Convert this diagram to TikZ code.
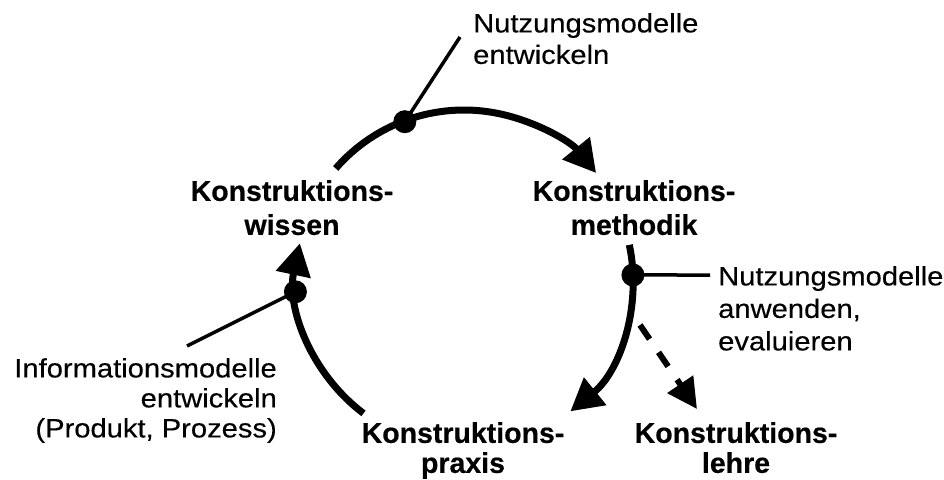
\documentclass[tikz,border=0pt]{standalone}
\usepackage{fontspec}
\setmainfont{Liberation Sans}
\newfontfamily\regfont[FakeStretch=1.1,FakeBold=0.3]{Liberation Sans}
\newfontfamily\boldfont[FakeBold=0.5]{Liberation Sans Bold}
\usetikzlibrary{arrows.meta,calc}
\tikzset{
  flow/.style={line width=7pt,-{Triangle[length=32pt,width=34pt]}},
  dashflow/.style={line width=6pt,dash pattern=on 17pt off 16pt,-{Triangle[length=30pt,width=30pt]}},
  leader/.style={line width=3.5pt},
  dot/.style={circle,fill=black,inner sep=0pt,minimum size=23pt},
  boldlab/.style={inner sep=0pt,align=center,font=\boldfont\fontsize{28.5}{34}\selectfont},
  boldlabb/.style={inner sep=0pt,align=center,font=\boldfont\fontsize{28.5}{30}\selectfont},
  reglab/.style={inner sep=0pt,font=\regfont\fontsize{26.5}{31.5}\selectfont}
}
\begin{document}
\begin{tikzpicture}[x=1pt,y=-1pt]
\path[use as bounding box] (0,0) rectangle (944,479);
\coordinate (C) at (464,280);
% labels
\node[boldlab,anchor=north] (wissen) at (292,180) {Konstruktions-\\wissen};
\node[boldlab,anchor=north] (methodik) at (634,180) {Konstruktions-\\methodik};
\node[boldlabb,anchor=north] (praxis) at (463,422) {Konstruktions-\\praxis};
\node[boldlabb,anchor=north] (lehre) at (736,422) {Konstruktions-\\lehre};
\node[reglab,align=left,anchor=north west] (ntop) at (473,13) {Nutzungsmodelle\\entwickeln};
\node[reglab,align=left,anchor=north west,font=\regfont\fontsize{26.5}{32.5}\selectfont] (nright) at (718,266) {Nutzungsmodelle\\anwenden,\\evaluieren};
\node[reglab,align=right,anchor=north east,font=\regfont\fontsize{26.5}{30}\selectfont] (nleft) at (277,358) {Informationsmodelle\\entwickeln\\(Produkt, Prozess)};
% arc end points
\coordinate (a1) at ($(C)+(221:170)$);
\coordinate (b1) at ($(C)+(348:169)$);
\coordinate (c1) at ($(C)+(127:167)$);
% arcs
\draw[flow] (a1) arc[start angle=221,end angle=321,radius=170];
\draw[flow] (b1) arc[start angle=348,end angle=411,radius=169];
\draw[flow] (c1) arc[start angle=127,end angle=192,radius=169];
% dots
\node[dot] (dtop) at ($(C)+(249.5:169)$) {};
\node[dot] (dright) at ($(C)+(358.3:169)$) {};
\node[dot] (dleft) at ($(C)+(176:169)$) {};
% leaders
\coordinate (ltop) at (460,37);
\coordinate (lright) at (710,275);
\coordinate (lleft) at (187,346);
\draw[leader] (dtop.center) -- (ltop);
\draw[leader] (dright.center) -- (lright);
\draw[leader] (dleft.center) -- (lleft);
% dashed
\coordinate (ds) at (640,325);
\coordinate (de) at (697,409);
\draw[dashflow] (ds) -- (de);
\end{tikzpicture}
\end{document}
